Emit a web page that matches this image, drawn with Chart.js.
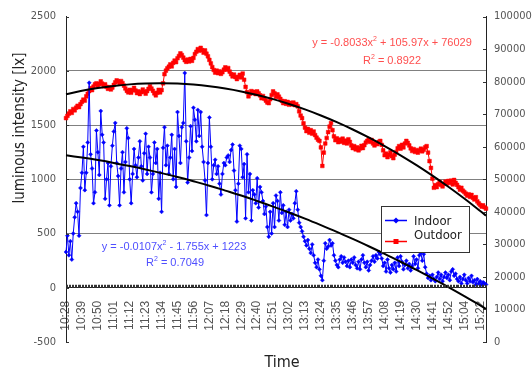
<!DOCTYPE html>
<html><head><meta charset="utf-8">
<script src="https://cdn.jsdelivr.net/npm/chart.js@4.4.1/dist/chart.umd.min.js"></script>
<style>html,body{margin:0;padding:0;background:#fff;}#wrap{width:532px;height:376px;}</style>
</head><body><div id="wrap"><canvas id="c" width="532" height="376"></canvas></div>
<script>
const tickLabels = ['10:28','10:39','10:50','11:01','11:12','11:23','11:34','11:45','11:56','12:07','12:18','12:29','12:40','12:51','13:02','13:13','13:24','13:35','13:46','13:57','14:08','14:19','14:30','14:41','14:52','15:04','15:22'];

const indoor = [
330,480,300,430,260,500,650,780,700,480,
920,1060,1300,900,1060,1340,1890,1230,1100,780,
880,1450,1250,1040,1630,1410,1340,820,1000,1150,
760,1120,1310,1440,1520,1150,1030,760,1100,1250,
880,1160,1470,1380,1000,780,1050,1280,1130,1020,
1200,1350,1120,990,1240,1420,1050,1300,1200,880,
1050,1340,1150,1280,820,1060,700,1290,1480,1130,
1310,1050,1200,1410,1000,1280,930,1620,1400,1150,
1480,1520,1980,1350,970,1200,1490,1260,1660,1550,
1350,1640,1400,1620,1300,1160,990,670,1150,1570,
1300,1000,1130,1180,1050,1120,960,860,1050,1150,
1130,1200,1220,1160,1270,1320,1080,900,610,960,
1310,1280,1020,1140,640,1230,880,1050,620,900,
860,780,1010,740,930,880,800,680,750,560,
470,700,500,780,560,850,800,620,880,690,
760,580,700,560,720,620,680,640,780,890,
720,600,560,520,470,430,390,440,360,320,
400,300,230,190,260,170,110,70,250,410,
360,380,440,390,410,300,250,210,190,260,
290,230,280,240,200,250,190,260,230,280,
210,180,240,170,260,300,230,190,240,160,
210,250,290,240,300,270,330,310,270,200,
230,150,260,180,140,210,170,230,150,280,
200,290,240,170,210,250,180,220,160,200,
290,220,260,180,300,320,250,310,190,130,
90,110,70,120,80,60,100,140,80,120,
60,100,140,90,120,70,150,170,110,130,
80,60,100,40,80,120,70,40,90,60,
110,50,70,30,80,40,60,30,50,40,
30];

const outdoor = [
68800,69500,70200,70900,70400,71600,71200,72000,72600,72200,
73100,73800,74500,74200,75500,76300,77100,78000,77400,78500,
79200,79500,78700,79300,80100,79400,78600,79200,78400,77800,
78300,77600,78200,79000,79800,80400,80100,79500,80200,79600,
78800,77900,77200,76700,77500,76600,77400,78100,77300,76500,
77000,76200,76800,77600,76900,76300,77100,77800,78600,77900,
77200,76400,75800,76600,77500,76700,77400,79500,82300,83400,
84100,84600,85300,84700,85800,86500,86000,87200,87900,88700,
88200,87400,86600,86100,86800,86200,87000,86400,87300,88500,
89200,90000,89500,90400,89700,88900,89600,88600,87800,86700,
85600,84500,83600,82800,83400,82600,83200,82400,82900,83700,
84400,83700,84200,83100,82300,81600,82200,81400,80800,81500,
82100,81300,82500,80600,78400,76800,75500,76300,77100,76500,
76900,76200,77000,76400,75800,74900,75600,74800,74200,73600,
73400,74600,75900,77000,76400,75300,76100,75400,74700,74100,
73400,74000,73200,73800,72900,73500,73000,73600,72800,73100,
72400,70900,69600,68800,67200,65900,64800,65500,64300,65100,
64000,64700,63600,62800,62200,61800,59800,54100,58200,61000,
62700,64500,66200,67300,65100,63200,62000,62600,61400,62200,
61600,62500,61200,61900,61000,62300,61500,60400,59600,60200,
59200,59800,58900,59500,60300,59600,60500,61300,61800,62300,
61500,62100,61000,60400,61200,60800,61500,61800,60600,58900,
57400,57900,56800,57500,58300,57100,56500,57600,58400,59500,
60200,59400,60600,59800,61000,61800,61200,60400,59500,58700,
59300,58400,59000,58200,58800,59400,58600,59100,59800,60200,
58200,55600,53500,50200,47400,48200,47600,48500,49200,48300,
47800,48600,49300,48700,49500,48900,49600,48400,49800,48900,
48300,47600,46800,47400,46500,46100,45600,45000,45400,44600,
45200,44300,43800,44500,43200,42600,42100,41600,42000,41400,
41000];

// trendline samples (read at every 11th point)
const trendIdx = [0,11,22,33,44,55,66,77,88,99,110,121,132,143,154,165,176,187,198,209,220,231,242,253,264,275,286,290];
const indoorTrend = [1221,1200,1177,1151,1122,1091,1057,1021,982,941,896,850,800,748,694,637,577,515,450,383,313,240,165,87,7,-76,-162,-194];
const outdoorTrend = [76134,77185,78041,78703,79171,79444,79523,79407,79097,78593,77894,77001,75913,74632,73155,71484,69619,67560,65306,62857,60214,57377,54346,51120,47699,44085,40275,38842];

const seriesNames = ['Indoor','Outdoor'];
const eqIndoor = [['y = -0.0107x',0],['2',1],[' - 1.755x + 1223',0]];
const r2Indoor = [['R',0],['2',1],[' = 0.7049',0]];
const eqOutdoor = [['y = -0.8033x',0],['2',1],[' + 105.97x + 76029',0]];
const r2Outdoor = [['R',0],['2',1],[' = 0.8922',0]];
const yTitle = 'luminous intensity [lx]';
const xTitle = 'Time';

const categories = indoor.map((_, i) => i);
const FN = "'Liberation Sans Narrow','DejaVu Sans Condensed',sans-serif";
const FR = "'Liberation Sans',Arial,sans-serif";
const BLUE = '#0000ff', RED = '#ff0000';

function drawRich(ctx, parts, cx, cy, size, color) {
  const sub = Math.round(size * 0.65);
  let total = 0;
  parts.forEach(p => { ctx.font = (p[1] ? sub : size) + 'px ' + FR; total += ctx.measureText(p[0]).width; });
  let x = cx - total / 2;
  ctx.fillStyle = color; ctx.textBaseline = 'middle'; ctx.textAlign = 'left';
  parts.forEach(p => {
    ctx.font = (p[1] ? sub : size) + 'px ' + FR;
    ctx.fillText(p[0], x, p[1] ? cy - size * 0.38 : cy);
    x += ctx.measureText(p[0]).width;
  });
}

const overlay = {
  id: 'overlay',
  afterDatasetsDraw(chart) {
    const ctx = chart.ctx, xs = chart.scales.x, ys = chart.scales.y, y2 = chart.scales.y2, ca = chart.chartArea;
    ctx.save();
    const y0 = ys.getPixelForValue(0);
    ctx.strokeStyle = '#333'; ctx.lineWidth = 1;
    ctx.beginPath();
    for (let i = 0; i < categories.length; i++) {
      const x = Math.round(xs.getPixelForValue(i)) + 0.5;
      ctx.moveTo(x, y0 - 3); ctx.lineTo(x, y0);
    }
    ctx.stroke();
    ctx.beginPath();
    ys.ticks.forEach(t => { const y = Math.round(ys.getPixelForValue(t.value)) + 0.5; ctx.moveTo(ca.left, y); ctx.lineTo(ca.left + 3, y); });
    y2.ticks.forEach(t => { const y = Math.round(y2.getPixelForValue(t.value)) + 0.5; ctx.moveTo(ca.right - 3, y); ctx.lineTo(ca.right, y); });
    ctx.stroke();
    drawRich(ctx, eqOutdoor, 392, 43, 11, '#ff4f4f');
    drawRich(ctx, r2Outdoor, 392, 61, 11, '#ff4f4f');
    drawRich(ctx, eqIndoor, 174, 247, 11, '#4f4fff');
    drawRich(ctx, r2Indoor, 175, 263, 11, '#4f4fff');
    ctx.fillStyle = '#fff'; ctx.strokeStyle = '#333'; ctx.lineWidth = 1;
    ctx.fillRect(381.5, 206.5, 88, 46); ctx.strokeRect(381.5, 206.5, 88, 46);
    ctx.lineWidth = 1.5;
    ctx.strokeStyle = BLUE; ctx.beginPath(); ctx.moveTo(385, 220.5); ctx.lineTo(407, 220.5); ctx.stroke();
    ctx.fillStyle = BLUE; ctx.beginPath(); ctx.moveTo(396, 217.5); ctx.lineTo(399, 220.5); ctx.lineTo(396, 223.5); ctx.lineTo(393, 220.5); ctx.closePath(); ctx.fill();
    ctx.strokeStyle = RED; ctx.beginPath(); ctx.moveTo(385, 241.5); ctx.lineTo(407, 241.5); ctx.stroke();
    ctx.fillStyle = RED; ctx.fillRect(393.5, 239, 5, 5);
    ctx.fillStyle = '#222'; ctx.font = '13px ' + FN; ctx.textAlign = 'left'; ctx.textBaseline = 'middle';
    ctx.fillText(seriesNames[0], 414, 222);
    ctx.fillText(seriesNames[1], 414, 236);
    ctx.fillStyle = '#222'; ctx.font = '15px ' + FN; ctx.textAlign = 'center';
    ctx.save(); ctx.translate(20, 128); ctx.rotate(-Math.PI / 2); ctx.fillText(yTitle, 0, 0); ctx.restore();
    ctx.font = '16px ' + FN;
    ctx.fillText(xTitle, 282, 363);
    ctx.restore();
  }
};

new Chart(document.getElementById('c'), {
  type: 'line',
  data: {
    labels: categories,
    datasets: [
      { label: 'Indoor trend', data: trendIdx.map((x, k) => ({x, y: indoorTrend[k]})), yAxisID: 'y', borderColor: '#000', borderWidth: 2, pointRadius: 0, tension: 0.4, order: 0 },
      { label: 'Outdoor trend', data: trendIdx.map((x, k) => ({x, y: outdoorTrend[k]})), yAxisID: 'y2', borderColor: '#000', borderWidth: 2, pointRadius: 0, tension: 0.4, order: 0 },
      { label: seriesNames[0], data: indoor, yAxisID: 'y', borderColor: BLUE, backgroundColor: BLUE, borderWidth: 1, pointStyle: 'rectRot', pointRadius: 2, pointBorderWidth: 0.5, order: 1 },
      { label: seriesNames[1], data: outdoor, yAxisID: 'y2', borderColor: RED, backgroundColor: RED, borderWidth: 1, pointStyle: 'rect', pointRadius: 2.6, pointBorderWidth: 0.5, order: 2 }
    ]
  },
  options: {
    responsive: false, animation: false,
    layout: { padding: { top: 16, bottom: 34, left: 0, right: 0 } },
    plugins: { legend: { display: false }, tooltip: { enabled: false } },
    scales: {
      x: {
        type: 'category', position: { y: 0 }, offset: false,
        grid: { display: false },
        border: { display: true, color: '#222', width: 1 },
        ticks: { autoSkip: false, maxRotation: 90, minRotation: 90, padding: 5, color: '#555',
          font: { family: FR, size: 12 },
          callback: (v, i) => (i % 11 === 0 ? tickLabels[i / 11] : '') }
      },
      y: {
        position: 'left', min: -500, max: 2500,
        ticks: { stepSize: 500, padding: 10, color: '#555', font: { family: FN, size: 11 }, callback: v => String(v) },
        grid: { drawTicks: false, color: c => (c.tick && [500, 1000, 1500, 2000].includes(c.tick.value)) ? '#808080' : 'rgba(0,0,0,0)' },
        border: { display: true, color: '#222' },
        afterFit: s => { s.width = 66; }
      },
      y2: {
        position: 'right', min: 0, max: 100000,
        ticks: { stepSize: 10000, padding: 8, color: '#555', font: { family: FN, size: 11 }, callback: v => String(v) },
        grid: { drawOnChartArea: false, drawTicks: false },
        border: { display: true, color: '#222' },
        afterFit: s => { s.width = 46; }
      }
    }
  },
  plugins: [overlay]
});
</script>
</body></html>
